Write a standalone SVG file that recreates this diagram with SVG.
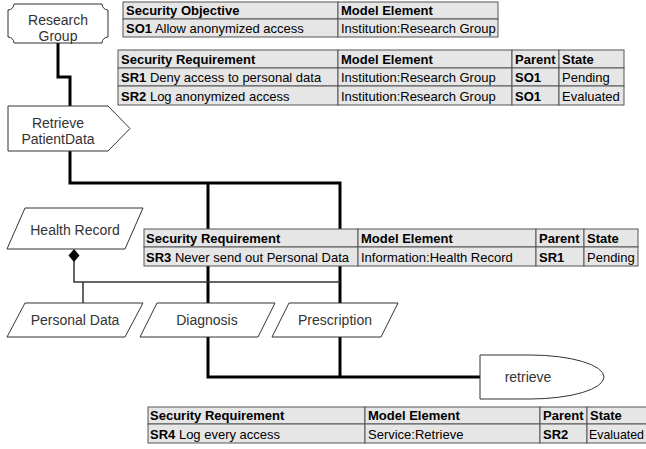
<svg xmlns="http://www.w3.org/2000/svg" width="646" height="449" viewBox="0 0 646 449">
  <style>
    .node { fill: #fff; stroke: #333; stroke-width: 1; }
    .lbl { font-family: "Liberation Sans", Arial, sans-serif; font-size: 14px; fill: #333; text-anchor: middle; }
    .flow { fill: none; stroke: #000; stroke-width: 3; }
    .comp { fill: none; stroke: #333; stroke-width: 1.5; }
    .cell { fill: #e6e6e6; stroke: #555; stroke-width: 1; }
    .t { font-family: "Liberation Sans", Arial, sans-serif; font-size: 13px; fill: #000; }
    .b { font-weight: bold; }
  </style>

  <!-- connectors -->
  <g id="connectors">
    <path class="flow" d="M58,43 V77 H70 V106"/>
    <path class="flow" d="M70,151 V183 H340 V377"/>
    <path class="flow" d="M208,183 V377 H480"/>
    <path class="comp" d="M74,261 V282 H340"/>
    <path class="comp" d="M83,282 V303"/>
    <path d="M74,249 L79.5,255.5 L74,262 L68.5,255.5 Z" fill="#000"/>
  </g>

  <!-- nodes -->
  <g id="research-group">
    <path class="node" d="M14,4 H102 A6,6 0 0 0 108,10 V37 A6,6 0 0 0 102,43 H14 A6,6 0 0 0 8,37 V10 A6,6 0 0 0 14,4 Z"/>
    <text class="lbl" x="58" y="25">Research</text>
    <text class="lbl" x="58" y="41">Group</text>
  </g>

  <g id="retrieve-patientdata">
    <path class="node" d="M8,106 H108 L130,128.5 L108,151 H8 Z"/>
    <text class="lbl" x="58" y="128">Retrieve</text>
    <text class="lbl" x="58" y="144">PatientData</text>
  </g>

  <g id="health-record">
    <path class="node" d="M25,208 H143 L125,249 H7 Z"/>
    <text class="lbl" x="75" y="235">Health Record</text>
  </g>

  <g id="personal-data">
    <path class="node" d="M25,303 H143 L125,337 H7 Z"/>
    <text class="lbl" x="75" y="325">Personal Data</text>
  </g>

  <g id="diagnosis">
    <path class="node" d="M157,303 H275 L258,337 H140 Z"/>
    <text class="lbl" x="207" y="325">Diagnosis</text>
  </g>

  <g id="prescription">
    <path class="node" d="M289,303 H398 L381,337 H272 Z"/>
    <text class="lbl" x="335" y="325">Prescription</text>
  </g>

  <g id="retrieve">
    <path class="node" d="M480,355 H530 A74,22 0 0 1 604,377 A74,22 0 0 1 530,399 H480 Z"/>
    <text class="lbl" x="528" y="382">retrieve</text>
  </g>

  <!-- security objective table -->
  <g id="table-so">
    <rect class="cell" x="123" y="2" width="215" height="17"/>
    <rect class="cell" x="338" y="2" width="160" height="17"/>
    <rect class="cell" x="123" y="19" width="215" height="18"/>
    <rect class="cell" x="338" y="19" width="160" height="18"/>
    <text class="t b" x="126" y="15">Security Objective</text>
    <text class="t b" x="341" y="15">Model Element</text>
    <text class="t" x="126" y="33"><tspan class="b">SO1</tspan> Allow anonymized access</text>
    <text class="t" x="341" y="33">Institution:Research Group</text>
  </g>

  <!-- requirements SR1/SR2 -->
  <g id="table-sr1-sr2">
    <rect class="cell" x="118" y="50" width="220" height="18"/>
    <rect class="cell" x="338" y="50" width="174" height="18"/>
    <rect class="cell" x="512" y="50" width="47" height="18"/>
    <rect class="cell" x="559" y="50" width="65" height="18"/>
    <rect class="cell" x="118" y="68" width="220" height="18"/>
    <rect class="cell" x="338" y="68" width="174" height="18"/>
    <rect class="cell" x="512" y="68" width="47" height="18"/>
    <rect class="cell" x="559" y="68" width="65" height="18"/>
    <rect class="cell" x="118" y="86" width="220" height="19"/>
    <rect class="cell" x="338" y="86" width="174" height="19"/>
    <rect class="cell" x="512" y="86" width="47" height="19"/>
    <rect class="cell" x="559" y="86" width="65" height="19"/>
    <text class="t b" x="121" y="64">Security Requirement</text>
    <text class="t b" x="341" y="64">Model Element</text>
    <text class="t b" x="515" y="64">Parent</text>
    <text class="t b" x="562" y="64">State</text>
    <text class="t" x="121" y="82"><tspan class="b">SR1</tspan> Deny access to personal data</text>
    <text class="t" x="341" y="82">Institution:Research Group</text>
    <text class="t b" x="515" y="82">SO1</text>
    <text class="t" x="562" y="82">Pending</text>
    <text class="t" x="121" y="101"><tspan class="b">SR2</tspan> Log anonymized access</text>
    <text class="t" x="341" y="101">Institution:Research Group</text>
    <text class="t b" x="515" y="101">SO1</text>
    <text class="t" x="562" y="101">Evaluated</text>
  </g>

  <!-- requirement SR3 -->
  <g id="table-sr3">
    <rect class="cell" x="144" y="229" width="214" height="18"/>
    <rect class="cell" x="358" y="229" width="178" height="18"/>
    <rect class="cell" x="536" y="229" width="48" height="18"/>
    <rect class="cell" x="584" y="229" width="54" height="18"/>
    <rect class="cell" x="144" y="247" width="214" height="19"/>
    <rect class="cell" x="358" y="247" width="178" height="19"/>
    <rect class="cell" x="536" y="247" width="48" height="19"/>
    <rect class="cell" x="584" y="247" width="54" height="19"/>
    <text class="t b" x="146" y="243">Security Requirement</text>
    <text class="t b" x="361" y="243">Model Element</text>
    <text class="t b" x="539" y="243">Parent</text>
    <text class="t b" x="587" y="243">State</text>
    <text class="t" x="146" y="262"><tspan class="b">SR3</tspan> Never send out Personal Data</text>
    <text class="t" x="361" y="262">Information:Health Record</text>
    <text class="t b" x="539" y="262">SR1</text>
    <text class="t" x="587" y="262">Pending</text>
  </g>

  <!-- requirement SR4 (right edge runs past the canvas) -->
  <g id="table-sr4">
    <rect class="cell" x="148" y="407" width="217" height="17"/>
    <rect class="cell" x="365" y="407" width="175" height="17"/>
    <rect class="cell" x="540" y="407" width="47" height="17"/>
    <rect class="cell" x="587" y="407" width="80" height="17"/>
    <rect class="cell" x="148" y="424" width="217" height="19"/>
    <rect class="cell" x="365" y="424" width="175" height="19"/>
    <rect class="cell" x="540" y="424" width="47" height="19"/>
    <rect class="cell" x="587" y="424" width="80" height="19"/>
    <text class="t b" x="150" y="420">Security Requirement</text>
    <text class="t b" x="368" y="420">Model Element</text>
    <text class="t b" x="543" y="420">Parent</text>
    <text class="t b" x="590" y="420">State</text>
    <text class="t" x="150" y="439"><tspan class="b">SR4</tspan> Log every access</text>
    <text class="t" x="368" y="439">Service:Retrieve</text>
    <text class="t b" x="543" y="439">SR2</text>
    <text class="t" x="589" y="439" textLength="55" lengthAdjust="spacingAndGlyphs">Evaluated</text>
  </g>
</svg>
